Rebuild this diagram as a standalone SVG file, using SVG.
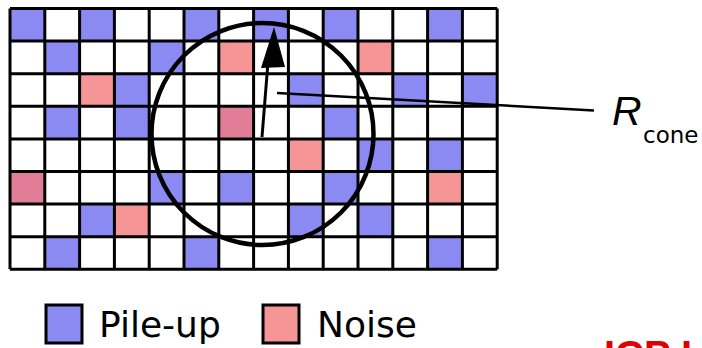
<svg xmlns="http://www.w3.org/2000/svg" width="702" height="348" viewBox="0 0 702 348">
<style>
.b{fill:#8a8af2}
.p{fill:#f59595}
.d{fill:#e27d98}
.grid{fill:none;stroke:#000;stroke-width:3}
.lbl{font-family:"DejaVu Sans",sans-serif;fill:#000}
</style>
<rect width="702" height="348" fill="#fff"/>
<g id="cells">
<rect class="b" x="10" y="8.5" width="34.8" height="32.6"/>
<rect class="b" x="79.6" y="8.5" width="34.8" height="32.6"/>
<rect class="b" x="184" y="8.5" width="34.8" height="32.6"/>
<rect class="b" x="253.6" y="8.5" width="34.8" height="32.6"/>
<rect class="b" x="323.2" y="8.5" width="34.8" height="32.6"/>
<rect class="b" x="427.6" y="8.5" width="34.8" height="32.6"/>
<rect class="b" x="44.8" y="41.1" width="34.8" height="32.6"/>
<rect class="b" x="149.2" y="41.1" width="34.8" height="32.6"/>
<rect class="p" x="218.8" y="41.1" width="34.8" height="32.6"/>
<rect class="p" x="358" y="41.1" width="34.8" height="32.6"/>
<rect class="p" x="79.6" y="73.7" width="34.8" height="32.6"/>
<rect class="b" x="114.4" y="73.7" width="34.8" height="32.6"/>
<rect class="b" x="288.4" y="73.7" width="34.8" height="32.6"/>
<rect class="b" x="392.8" y="73.7" width="34.8" height="32.6"/>
<rect class="b" x="462.4" y="73.7" width="34.8" height="32.6"/>
<rect class="b" x="44.8" y="106.3" width="34.8" height="32.6"/>
<rect class="b" x="114.4" y="106.3" width="34.8" height="32.6"/>
<rect class="d" x="218.8" y="106.3" width="34.8" height="32.6"/>
<rect class="b" x="323.2" y="106.3" width="34.8" height="32.6"/>
<rect class="p" x="288.4" y="138.9" width="34.8" height="32.6"/>
<rect class="b" x="358" y="138.9" width="34.8" height="32.6"/>
<rect class="b" x="427.6" y="138.9" width="34.8" height="32.6"/>
<rect class="d" x="10" y="171.5" width="34.8" height="32.6"/>
<rect class="b" x="149.2" y="171.5" width="34.8" height="32.6"/>
<rect class="b" x="218.8" y="171.5" width="34.8" height="32.6"/>
<rect class="b" x="323.2" y="171.5" width="34.8" height="32.6"/>
<rect class="p" x="427.6" y="171.5" width="34.8" height="32.6"/>
<rect class="b" x="79.6" y="204.1" width="34.8" height="32.6"/>
<rect class="p" x="114.4" y="204.1" width="34.8" height="32.6"/>
<rect class="b" x="288.4" y="204.1" width="34.8" height="32.6"/>
<rect class="b" x="358" y="204.1" width="34.8" height="32.6"/>
<rect class="b" x="44.8" y="236.7" width="34.8" height="32.6"/>
<rect class="b" x="184" y="236.7" width="34.8" height="32.6"/>
<rect class="b" x="427.6" y="236.7" width="34.8" height="32.6"/>
</g>
<g id="grid">
<path class="grid" d="M10 8.5V269.3M44.8 8.5V269.3M79.6 8.5V269.3M114.4 8.5V269.3M149.2 8.5V269.3M184 8.5V269.3M218.8 8.5V269.3M253.6 8.5V269.3M288.4 8.5V269.3M323.2 8.5V269.3M358 8.5V269.3M392.8 8.5V269.3M427.6 8.5V269.3M462.4 8.5V269.3M497.2 8.5V269.3M10 8.5H497.2M10 41.1H497.2M10 73.7H497.2M10 106.3H497.2M10 138.9H497.2M10 171.5H497.2M10 204.1H497.2M10 236.7H497.2M10 269.3H497.2"/>
</g>
<g id="cone">
<circle cx="262.5" cy="134" r="111" fill="none" stroke="#000" stroke-width="4.5"/>
</g>
<g id="connectors">
<line x1="262" y1="137" x2="268" y2="62" stroke="#000" stroke-width="3"/>
<polygon points="274,27 261,68 285,67" fill="#000"/>
<line x1="277" y1="93" x2="594" y2="110.5" stroke="#000" stroke-width="2.5"/>
</g>
<g id="rcone-label">
<text x="612" y="125" font-family="Liberation Sans, sans-serif" font-style="italic" font-size="41">R</text>
<text class="lbl" x="643" y="143" font-size="23">cone</text>
</g>
<g id="legend">
<g id="legend-pileup">
<rect x="46" y="305" width="36" height="38" class="b" stroke="#000" stroke-width="3"/>
<text class="lbl" x="99" y="337" font-size="36">Pile-up</text>
</g>
<g id="legend-noise">
<rect x="263" y="305" width="36" height="38" class="p" stroke="#000" stroke-width="3"/>
<text class="lbl" x="317" y="337" font-size="36">Noise</text>
</g>
</g>
<g id="cut-text">
<text x="604" y="369" font-family="Liberation Sans, sans-serif" font-weight="bold" font-size="40" fill="#e00000">ICP I</text>
</g>
</svg>
